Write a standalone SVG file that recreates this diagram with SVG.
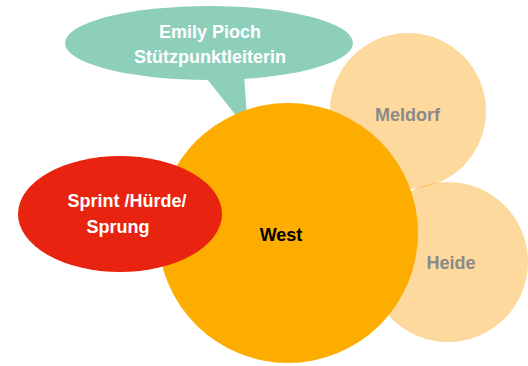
<svg xmlns="http://www.w3.org/2000/svg" width="528" height="366" viewBox="0 0 528 366">
<style>
text{font-family:"Liberation Sans",Arial,sans-serif;font-weight:bold;font-size:18px;text-anchor:middle}
.w{fill:#ffffff}
.g{fill:#8a8a8a}
.k{fill:#000000}
.peach{fill:#FCB43C;fill-opacity:0.5}
</style>
<rect width="528" height="366" fill="#ffffff"/>
<g id="connectors"></g>
<g id="speech">
<polygon points="203,74 238,118 247,118 244,74" fill="#8ECFBC"/>
<ellipse cx="209" cy="43" rx="144" ry="37" fill="#8ECFBC"/>
<text class="w" x="210" y="38">Emily Pioch</text>
<text class="w" x="210" y="63">Stützpunktleiterin</text>
</g>
<g id="meldorf">
<circle class="peach" cx="408" cy="111" r="78"/>
<text class="g" x="407.5" y="121">Meldorf</text>
</g>
<g id="heide">
<circle class="peach" cx="448" cy="262" r="80"/>
<text class="g" x="451" y="269">Heide</text>
</g>
<g id="west">
<circle cx="288" cy="233" r="130" fill="#FDAC00"/>
<text class="k" x="281" y="241">West</text>
</g>
<g id="sprint">
<ellipse cx="120" cy="214" rx="102" ry="58" fill="#E8230F"/>
<text class="w" x="127" y="207">Sprint /Hürde/</text>
<text class="w" x="118" y="233">Sprung</text>
</g>
</svg>
